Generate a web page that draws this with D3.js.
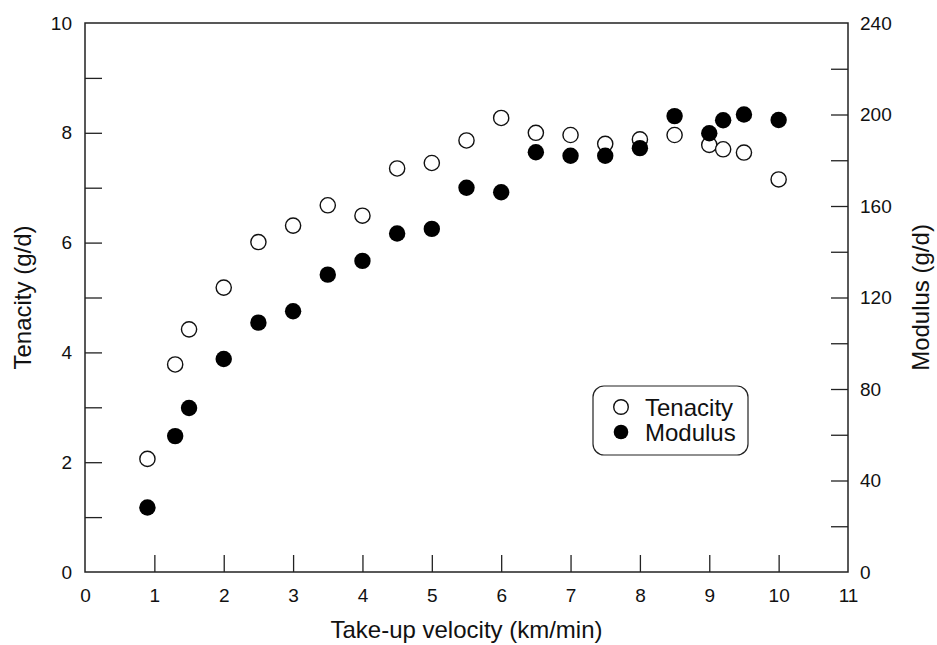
<!DOCTYPE html>
<html>
<head>
<meta charset="utf-8">
<script src="https://cdn.jsdelivr.net/npm/d3@7"></script>
<style>
  body { margin: 0; background: #fff; }
  svg text { font-family: "Liberation Sans", Arial, sans-serif; fill: #111; }
</style>
</head>
<body>
<div id="chart"></div>
<script>
// take-up velocity (km/min)
const velocity = [0.9, 1.3, 1.5, 2, 2.5, 3, 3.5, 4, 4.5, 5, 5.5, 6, 6.5, 7, 7.5, 8, 8.5, 9, 9.2, 9.5, 10];
// tenacity (g/d), left axis
const tenacity = [2.06, 3.78, 4.42, 5.18, 6.01, 6.31, 6.68, 6.49, 7.35, 7.45, 7.86, 8.27, 8.0, 7.96, 7.8, 7.88, 7.96, 7.78, 7.7, 7.64, 7.15];
// modulus (g/d), right axis
const modulus = [28.2, 59.4, 71.7, 93.1, 109, 114, 130, 136, 148, 150, 168, 166, 183.5, 182, 182, 185.3, 199.3, 191.8, 197.5, 200, 197.6];

const xTicks = d3.range(0, 12);
const yLeftTicks = d3.range(0, 11);
const yRightTicks = d3.range(0, 241, 20);

const width = 937, height = 645;
const margin = { top: 23, right: 89, bottom: 73, left: 85 };

const svg = d3.select("#chart").append("svg")
  .attr("width", width)
  .attr("height", height);

const x = d3.scaleLinear().domain([0, 11]).range([margin.left, width - margin.right]);
const yL = d3.scaleLinear().domain([0, 10]).range([height - margin.bottom, margin.top]);
const yR = d3.scaleLinear().domain([0, 240]).range([height - margin.bottom, margin.top]);

// axes, ticks pointing inward
const gx = svg.append("g")
  .attr("transform", `translate(0, ${height - margin.bottom})`)
  .call(d3.axisBottom(x).tickValues(xTicks).tickSizeInner(-17).tickSizeOuter(0).tickPadding(17));

const gl = svg.append("g")
  .attr("transform", `translate(${margin.left}, 0)`)
  .call(d3.axisLeft(yL).tickValues(yLeftTicks).tickSizeInner(-17).tickSizeOuter(0).tickPadding(13)
    .tickFormat((d) => (d % 2 === 0 ? d : "")));

const gr = svg.append("g")
  .attr("transform", `translate(${width - margin.right}, 0)`)
  .call(d3.axisRight(yR).tickValues(yRightTicks).tickSizeInner(-17).tickSizeOuter(0).tickPadding(12)
    .tickFormat((d) => (d % 40 === 0 ? d : "")));

[gx, gl, gr].forEach((g) => {
  g.select(".domain").remove();
  g.selectAll(".tick line").attr("stroke", "#222").attr("stroke-width", 1.3);
  g.selectAll(".tick text").style("font-size", "19px").attr("fill", "#111");
});
// hide the ticks sitting on the corners
gx.selectAll(".tick").filter((d) => d === 0 || d === 11).select("line").remove();
gl.selectAll(".tick").filter((d) => d === 0 || d === 10).select("line").remove();
gr.selectAll(".tick").filter((d) => d === 0 || d === 240).select("line").remove();

// frame
svg.append("rect")
  .attr("x", margin.left)
  .attr("y", margin.top)
  .attr("width", width - margin.left - margin.right)
  .attr("height", height - margin.top - margin.bottom)
  .attr("fill", "none")
  .attr("stroke", "#222")
  .attr("stroke-width", 1.5);

// axis titles
svg.append("text")
  .attr("x", (margin.left + width - margin.right) / 2)
  .attr("y", 638)
  .attr("text-anchor", "middle")
  .style("font-size", "24px")
  .text("Take-up velocity (km/min)");

svg.append("text")
  .attr("transform", `translate(31, ${(margin.top + height - margin.bottom) / 2}) rotate(-90)`)
  .attr("text-anchor", "middle")
  .style("font-size", "24px")
  .text("Tenacity (g/d)");

svg.append("text")
  .attr("transform", `translate(929, ${(margin.top + height - margin.bottom) / 2}) rotate(-90)`)
  .attr("text-anchor", "middle")
  .style("font-size", "24px")
  .text("Modulus (g/d)");

// points: open = tenacity, filled = modulus (drawn on top)
svg.append("g").selectAll("circle")
  .data(velocity.map((v, i) => [v, tenacity[i]]))
  .join("circle")
  .attr("cx", (d) => x(d[0]))
  .attr("cy", (d) => yL(d[1]))
  .attr("r", 7.6)
  .attr("fill", "#fff")
  .attr("stroke", "#111")
  .attr("stroke-width", 1.4);

svg.append("g").selectAll("circle")
  .data(velocity.map((v, i) => [v, modulus[i]]))
  .join("circle")
  .attr("cx", (d) => x(d[0]))
  .attr("cy", (d) => yR(d[1]))
  .attr("r", 8.2)
  .attr("fill", "#000");

// legend
const legend = svg.append("g");
legend.append("rect")
  .attr("x", 593).attr("y", 386)
  .attr("width", 155).attr("height", 69)
  .attr("rx", 11)
  .attr("fill", "#fff")
  .attr("stroke", "#222")
  .attr("stroke-width", 1.2);

[
  { label: "Tenacity", fill: "#fff", stroke: "#111" },
  { label: "Modulus", fill: "#000", stroke: "none" },
].forEach(({ label, fill, stroke }, i) => {
  const cy = 407 + i * 25;
  legend.append("circle")
    .attr("cx", 621).attr("cy", cy).attr("r", 7.3)
    .attr("fill", fill).attr("stroke", stroke).attr("stroke-width", 1.4);
  legend.append("text")
    .attr("x", 645).attr("y", cy + 8.5)
    .style("font-size", "24px")
    .text(label);
});
</script>
</body>
</html>
